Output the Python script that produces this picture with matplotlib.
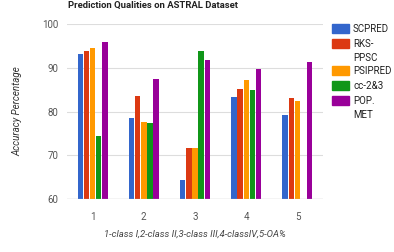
import matplotlib.pyplot as plt
from matplotlib.patches import Rectangle
import numpy as np

plt.rcParams['font.family'] = ['Roboto', 'DejaVu Sans']

groups = ['1', '2', '3', '4', '5']
series = ['SCPRED', 'RKS-\nPPSC', 'PSIPRED', 'cc-2&3', 'POP.\nMET']
colors = ['#3366cc', '#dc3912', '#ff9900', '#109618', '#990099']

scpred = [93.1, 78.5, 64.4, 83.4, 79.2]
rks_ppsc = [93.9, 83.5, 71.6, 85.2, 83.1]
psipred = [94.4, 77.6, 71.6, 87.3, 82.3]
cc23 = [74.4, 77.3, 93.9, 84.9, np.nan]
pop_met = [95.8, 87.4, 91.7, 89.8, 91.2]
values = [scpred, rks_ppsc, psipred, cc23, pop_met]

fig = plt.figure(figsize=(3.94, 2.52), dpi=100)
ax = fig.add_axes([0.170, 0.210, 0.650, 0.695])

x = np.arange(len(groups))
w = 0.12
for i, (vals, c) in enumerate(zip(values, colors)):
    v = np.array(vals, dtype=float)
    ax.bar(x + (i - 2) * w, v - 60, width=w * 0.88, bottom=60, color=c, zorder=3)

ax.set_xlim(-0.5, 4.5)
ax.set_ylim(60, 100)
ax.set_yticks([60, 70, 80, 90, 100])
ax.set_xticks(x)
ax.set_xticklabels(groups)
for s in ax.spines.values():
    s.set_visible(False)
ax.grid(axis='y', color='#dddddd', linewidth=0.8, zorder=0)
ax.axhline(60, color='#bbbbbb', linewidth=0.9, zorder=4)
ax.tick_params(length=0, labelsize=7, colors='#555555', pad=6)
ax.tick_params(axis='x', pad=9)

fig.text(0.173, 0.977, 'Prediction Qualities on ASTRAL Dataset', fontsize=6.8,
         fontweight='bold', color='#222222', ha='left', va='center')
fig.text(0.043, 0.56, 'Accuracy Percentage', rotation=90, fontsize=7,
         style='italic', color='#333333', ha='center', va='center')
fig.text(0.495, 0.072, '1-class I,2-class II,3-class III,4-classIV,5-OA%',
         fontsize=6.8, style='italic', color='#444444', ha='center', va='center')

# legend drawn by hand so the swatch sits on the first line
row_y = [28, 43, 70, 85, 100]
for name, c, yy in zip(series, colors, row_y):
    fig.add_artist(Rectangle((332 / 394, 1 - (yy + 4.5) / 252), 17 / 394, 9 / 252,
                             color=c, transform=fig.transFigure))
    fig.text(353 / 394, 1 - (yy - 4) / 252, name, fontsize=7, color='#222222',
             ha='left', va='top', linespacing=1.45)

fig.savefig('out.png', dpi=100)
